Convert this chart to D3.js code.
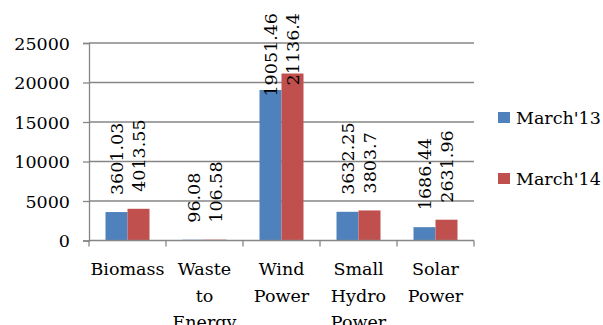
<!DOCTYPE html>
<html><head><meta charset="utf-8">
<script src="https://cdn.jsdelivr.net/npm/d3@7"></script>
<style>body{margin:0;background:#fff}svg{display:block}text{font-family:"DejaVu Serif",serif;fill:#000}</style>
</head><body><svg id="c" width="603" height="325"></svg>
<script>
const categories = ["Biomass", "Waste to Energy", "Wind Power", "Small Hydro Power", "Solar Power"];
const categoryLines = [["Biomass"], ["Waste", "to", "Energy"], ["Wind", "Power"], ["Small", "Hydro", "Power"], ["Solar", "Power"]];
const seriesNames = ["March'13", "March'14"];
const march13 = [3601.03, 96.08, 19051.46, 3632.25, 1686.44];
const march14 = [4013.55, 106.58, 21136.4, 3803.7, 2631.96];
const labels13 = ["3601.03", "96.08", "19051.46", "3632.25", "1686.44"];
const labels14 = ["4013.55", "106.58", "21136.4", "3803.7", "2631.96"];
const yTicks = [0, 5000, 10000, 15000, 20000, 25000];
const colors = ["#4F81BD", "#C0504D"];

const svg = d3.select("#c");
const L = 89, R = 474, T = 43, B = 240.5;
const fs = 17.5;
const x = d3.scaleBand().domain(categories).range([L, R]).paddingInner(0).paddingOuter(0);
const y = d3.scaleLinear().domain([0, 25000]).range([B, T]);
const groupW = 44;
const xs = d3.scaleBand().domain(seriesNames).range([0, groupW]);

// gridlines
svg.append("g").selectAll("line").data(yTicks.slice(1)).join("line")
  .attr("x1", L).attr("x2", R).attr("y1", d => y(d)).attr("y2", d => y(d))
  .attr("stroke", "#868686").attr("stroke-width", 1.3);

// y axis
const yAxis = svg.append("g").attr("transform", `translate(${L},0)`)
  .call(d3.axisLeft(y).tickValues(yTicks).tickSize(6).tickPadding(13).tickFormat(d3.format("d")));
yAxis.select(".domain").attr("stroke", "#868686").attr("stroke-width", 1.3);
yAxis.selectAll(".tick line").attr("stroke", "#868686").attr("stroke-width", 1.3);
yAxis.selectAll("text").attr("font-size", fs).attr("font-family", "DejaVu Serif").attr("fill", "#000").attr("dy", "0.36em");

// bars
const series = [march13, march14];
const seriesLabels = [labels13, labels14];
series.forEach((vals, si) => {
  svg.append("g").selectAll("rect").data(vals).join("rect")
    .attr("x", (d, i) => x(categories[i]) + (x.bandwidth() - groupW) / 2 + xs(seriesNames[si]))
    .attr("width", xs.bandwidth())
    .attr("y", d => y(d))
    .attr("height", d => B - y(d))
    .attr("fill", colors[si]);
});

// x axis
const xAxis = svg.append("g").attr("transform", `translate(0,${B})`);
xAxis.append("line").attr("x1", L).attr("x2", R).attr("y1", 0).attr("y2", 0)
  .attr("stroke", "#868686").attr("stroke-width", 1.3);
const bounds = categories.map(c => x(c)).concat([R]);
xAxis.selectAll("line.tk").data(bounds).join("line").attr("class", "tk")
  .attr("x1", d => d).attr("x2", d => d).attr("y1", 0).attr("y2", 6)
  .attr("stroke", "#868686").attr("stroke-width", 1.3);
categories.forEach((c, i) => {
  const t = svg.append("text").attr("text-anchor", "middle").attr("font-size", fs)
    .attr("x", x(c) + x.bandwidth() / 2).attr("y", 275);
  categoryLines[i].forEach((ln, j) => {
    t.append("tspan").attr("x", x(c) + x.bandwidth() / 2).attr("y", 275 + j * 26.5).text(ln);
  });
});

// data labels (rotated)
const topLimit = 13;
series.forEach((vals, si) => {
  vals.forEach((v, i) => {
    const cx = x(categories[i]) + (x.bandwidth() - groupW) / 2 + xs(seriesNames[si]) + xs.bandwidth() / 2;
    const t = svg.append("text").attr("font-size", fs).attr("text-anchor", "start")
      .text(seriesLabels[si][i]);
    const len = t.node().getComputedTextLength();
    let start = y(v) - 17;
    if (start - len < topLimit) start = topLimit + len;
    t.attr("transform", `translate(${cx + 6.5},${start}) rotate(-90)`);
  });
});

// legend
const leg = svg.append("g");
seriesNames.forEach((n, i) => {
  const yy = 112 + i * 61;
  leg.append("rect").attr("x", 498).attr("y", yy).attr("width", 12).attr("height", 11).attr("fill", colors[i]);
  leg.append("text").attr("x", 516).attr("y", yy + 11.5).attr("font-size", fs).text(n);
});
</script></body></html>
